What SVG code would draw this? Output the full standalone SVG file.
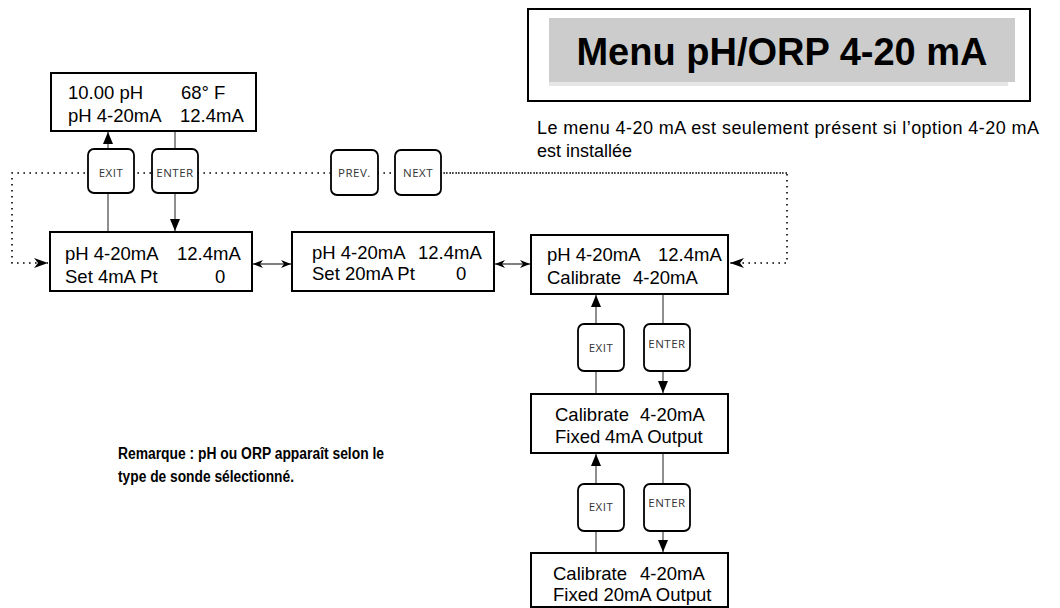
<svg xmlns="http://www.w3.org/2000/svg" width="1060" height="608" viewBox="0 0 1060 608">
  <defs>
    <marker id="arrow" viewBox="0 0 12 10" refX="12" refY="5" markerWidth="12" markerHeight="10" markerUnits="userSpaceOnUse" orient="auto-start-reverse">
      <path d="M0,0 L12,5 L0,10 z" fill="#000"/>
    </marker>
    <marker id="arrowDot" viewBox="0 0 14 10" refX="14" refY="5" markerWidth="14" markerHeight="10" markerUnits="userSpaceOnUse" orient="auto">
      <path d="M0,0 L14,5 L0,10 L4,5 z" fill="#000"/>
    </marker>
    <marker id="arrowSmall" viewBox="0 0 10 8" refX="10" refY="4" markerWidth="10" markerHeight="8" markerUnits="userSpaceOnUse" orient="auto-start-reverse">
      <path d="M0,0 L10,4 L0,8 L3,4 z" fill="#000"/>
    </marker>
  </defs>
  <style>
    .box { fill: #fff; stroke: #000; stroke-width: 2; }
    .btn { fill: #fff; stroke: #000; stroke-width: 1.8; }
    .lcd { font-family: "Liberation Sans", Arial, sans-serif; font-size: 18.5px; fill: #000; }
    .key { font-family: "Open Sans", "DejaVu Sans", sans-serif; font-size: 11.5px; fill: #333; letter-spacing: 0.5px; text-anchor: middle; }
    .wire { stroke: #444; stroke-width: 1.2; fill: none; }
    .dots { stroke: #000; stroke-width: 1.6; stroke-dasharray: 1.6 4.4; fill: none; }
    .dbl { stroke: #000; stroke-width: 1.2; fill: none; }
    .note { font-family: "Liberation Sans", Arial, sans-serif; font-size: 16px; font-weight: bold; fill: #000; }
    .info { font-family: "Liberation Sans", Arial, sans-serif; font-size: 18px; fill: #000; }
  </style>

  <rect width="1060" height="608" fill="#fff"/>

  <!-- title banner -->
  <g id="title">
    <rect x="528" y="9" width="502" height="92" fill="#fff" stroke="#000" stroke-width="2"/>
    <rect x="549" y="82" width="459" height="4" fill="#e6e6e6"/>
    <rect x="549" y="18" width="466" height="64" fill="#cccccc"/>
    <text x="782" y="65" text-anchor="middle" font-family="Liberation Sans, Arial, sans-serif" font-size="38" font-weight="bold" fill="#000">Menu pH/ORP 4-20 mA</text>
  </g>

  <g id="info">
    <text class="info" x="537" y="134" textLength="502" lengthAdjust="spacing">Le menu 4-20 mA est seulement présent si l’option 4-20 mA</text>
    <text class="info" x="537" y="157">est installée</text>
  </g>

  <g id="remark">
    <text class="note" x="118" y="459" textLength="266" lengthAdjust="spacingAndGlyphs">Remarque : pH ou ORP apparaît selon le</text>
    <text class="note" x="118" y="482" textLength="176" lengthAdjust="spacingAndGlyphs">type de sonde sélectionné.</text>
  </g>

  <!-- connectors -->
  <g id="connectors">
    <!-- dotted PREV/NEXT loop -->
    <path class="dots" d="M787,173 H12 V263 H48" marker-end="url(#arrowDot)"/>
    <path class="dots" d="M440,173 H787 V263 H730" marker-end="url(#arrowDot)"/>
    <!-- left stack -->
    <line class="wire" x1="108" y1="232" x2="108" y2="132" marker-end="url(#arrow)"/>
    <line class="wire" x1="175" y1="131" x2="175" y2="231" marker-end="url(#arrow)"/>
    <!-- horizontal links -->
    <line class="dbl" x1="253" y1="264" x2="291" y2="264" marker-start="url(#arrowSmall)" marker-end="url(#arrowSmall)"/>
    <line class="dbl" x1="495" y1="264" x2="530" y2="264" marker-start="url(#arrowSmall)" marker-end="url(#arrowSmall)"/>
    <!-- right stack -->
    <line class="wire" x1="596" y1="394" x2="596" y2="295" marker-end="url(#arrow)"/>
    <line class="wire" x1="663" y1="295" x2="663" y2="393" marker-end="url(#arrow)"/>
    <line class="wire" x1="596" y1="553" x2="596" y2="454" marker-end="url(#arrow)"/>
    <line class="wire" x1="663" y1="454" x2="663" y2="552" marker-end="url(#arrow)"/>
  </g>

  <!-- keys -->
  <g id="key-exit-1"><rect class="btn" x="88" y="149" width="46" height="44" rx="6"/><text class="key" x="111" y="177">EXIT</text></g>
  <g id="key-enter-1"><rect class="btn" x="152" y="149" width="46" height="44" rx="6"/><text class="key" x="175" y="177">ENTER</text></g>
  <g id="key-prev"><rect class="btn" x="331" y="150" width="47" height="45" rx="6"/><text class="key" x="354.5" y="177">PREV.</text></g>
  <g id="key-next"><rect class="btn" x="395" y="150" width="46" height="45" rx="6"/><text class="key" x="418" y="177">NEXT</text></g>
  <g id="key-exit-2"><rect class="btn" x="578" y="324" width="46" height="47" rx="6"/><text class="key" x="601" y="352">EXIT</text></g>
  <g id="key-enter-2"><rect class="btn" x="644" y="324" width="46" height="47" rx="6"/><text class="key" x="667" y="348">ENTER</text></g>
  <g id="key-exit-3"><rect class="btn" x="578" y="484" width="46" height="47" rx="6"/><text class="key" x="601" y="511">EXIT</text></g>
  <g id="key-enter-3"><rect class="btn" x="644" y="484" width="46" height="47" rx="6"/><text class="key" x="667" y="507">ENTER</text></g>

  <!-- display screens -->
  <g id="screen-main">
    <rect class="box" x="51" y="73" width="205" height="58"/>
    <text class="lcd" y="99"><tspan x="68">10.00 pH</tspan><tspan x="181">68° F</tspan></text>
    <text class="lcd" y="122"><tspan x="68">pH 4-20mA</tspan><tspan x="180">12.4mA</tspan></text>
  </g>
  <g id="screen-set4">
    <rect class="box" x="50" y="232" width="202" height="59"/>
    <text class="lcd" y="260"><tspan x="65">pH 4-20mA</tspan><tspan x="177">12.4mA</tspan></text>
    <text class="lcd" y="283"><tspan x="65">Set 4mA Pt</tspan><tspan x="215">0</tspan></text>
  </g>
  <g id="screen-set20">
    <rect class="box" x="292" y="232" width="202" height="59"/>
    <text class="lcd" y="259"><tspan x="312">pH 4-20mA</tspan><tspan x="418">12.4mA</tspan></text>
    <text class="lcd" y="280"><tspan x="312">Set 20mA Pt</tspan><tspan x="456">0</tspan></text>
  </g>
  <g id="screen-cal">
    <rect class="box" x="531" y="235" width="197" height="59"/>
    <text class="lcd" y="261"><tspan x="547">pH 4-20mA</tspan><tspan x="658">12.4mA</tspan></text>
    <text class="lcd" y="284"><tspan x="547">Calibrate</tspan><tspan x="633">4-20mA</tspan></text>
  </g>
  <g id="screen-fixed4">
    <rect class="box" x="531" y="394" width="197" height="59"/>
    <text class="lcd" y="421"><tspan x="555">Calibrate</tspan><tspan x="640">4-20mA</tspan></text>
    <text class="lcd" y="443"><tspan x="555">Fixed</tspan><tspan x="605">4mA Output</tspan></text>
  </g>
  <g id="screen-fixed20">
    <rect class="box" x="531" y="553" width="197" height="54"/>
    <text class="lcd" y="580"><tspan x="553">Calibrate</tspan><tspan x="640">4-20mA</tspan></text>
    <text class="lcd" y="601"><tspan x="553">Fixed 20mA Output</tspan></text>
  </g>
</svg>
